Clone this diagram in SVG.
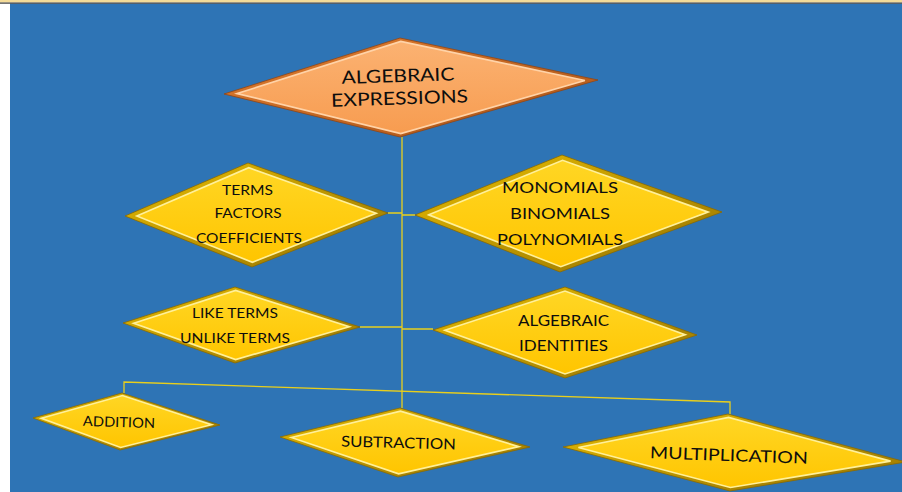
<svg xmlns="http://www.w3.org/2000/svg" width="902" height="492" viewBox="0 0 902 492">
  <defs>
    <linearGradient id="yface" x1="0" y1="0" x2="0" y2="1">
      <stop offset="0" stop-color="#FFD624"/>
      <stop offset="1" stop-color="#FFC500"/>
    </linearGradient>
    <linearGradient id="yrim" x1="0" y1="0" x2="1" y2="1">
      <stop offset="0" stop-color="#E8BC00"/>
      <stop offset="1" stop-color="#967300"/>
    </linearGradient>
    <linearGradient id="oface" x1="0" y1="0" x2="0" y2="1">
      <stop offset="0" stop-color="#FBB272"/>
      <stop offset="1" stop-color="#F79C50"/>
    </linearGradient>
    <linearGradient id="orim" x1="0" y1="0" x2="1" y2="1">
      <stop offset="0" stop-color="#E37F30"/>
      <stop offset="1" stop-color="#A85216"/>
    </linearGradient>
    <style>
      .yrim { fill: url(#yrim); stroke: #8A6A00; stroke-width: 0.8; }
      .yface { fill: url(#yface); stroke: #FFF09A; stroke-width: 1.8; }
      .orim { fill: url(#orim); stroke: #944512; stroke-width: 0.8; }
      .oface { fill: url(#oface); stroke: #FFD3A8; stroke-width: 1.8; }
      text { font-family: Lato, "Liberation Sans", sans-serif; fill: #0D0D0D; text-anchor: middle; }
      .s14 { font-size: 14px; }
      .s15 { font-size: 15px; }
      .s16 { font-size: 16.5px; }
      .s18 { font-size: 18px; }
      .conn { fill: none; stroke: #E9CF1C; stroke-width: 1.3; }
    </style>
  </defs>

  <rect x="0" y="0" width="902" height="492" fill="#FFFFFF"/>
  <rect x="10" y="3.5" width="892" height="488.5" fill="#2E74B5"/>
  <rect x="0" y="0" width="902" height="2.5" fill="#F4DB98"/>
  <rect x="0" y="2.5" width="902" height="1.2" fill="#3A3A3A"/>

  <g id="connectors">
    <path class="conn" d="M402,137 V408"/>
    <path class="conn" d="M388,213 H402 M402,215 H415"/>
    <path class="conn" d="M360,327 H402 M402,329 H433"/>
    <path class="conn" d="M124,393 V382 L730,402 V414"/>
  </g>

  <g id="node-algebraic-expressions">
    <polygon class="orim" points="224,94 400,38 598,80 400,137"/>
    <polygon class="oface" points="224,94 400,38 598,80 400,137" transform="matrix(0.93,0,0,0.93,28.77,6.125)"/>
    <g transform="rotate(-1.8 400 94)">
      <text class="s18" x="398.5" y="82" textLength="113" lengthAdjust="spacingAndGlyphs">ALGEBRAIC</text>
      <text class="s18" x="399.5" y="104.5" textLength="137" lengthAdjust="spacingAndGlyphs">EXPRESSIONS</text>
    </g>
  </g>

  <g id="node-terms">
    <polygon class="yrim" points="125,216 248,163 388,213 252,267"/>
    <polygon class="yface" points="125,216 248,163 388,213 252,267" transform="matrix(0.91,0,0,0.91,23.085,19.35)"/>
    <text class="s14" x="247.5" y="195" textLength="51" lengthAdjust="spacingAndGlyphs">TERMS</text>
    <text class="s14" x="248" y="218.3" textLength="67" lengthAdjust="spacingAndGlyphs">FACTORS</text>
    <text class="s14" x="249" y="242.7" textLength="106" lengthAdjust="spacingAndGlyphs">COEFFICIENTS</text>
  </g>

  <g id="node-monomials">
    <polygon class="yrim" points="415,215 562,155 722,212 560,272"/>
    <polygon class="yface" points="415,215 562,155 722,212 560,272" transform="matrix(0.91,0,0,0.91,51.165,19.215)"/>
    <text class="s15" x="560" y="193" textLength="116" lengthAdjust="spacingAndGlyphs">MONOMIALS</text>
    <text class="s15" x="560" y="218.5" textLength="100" lengthAdjust="spacingAndGlyphs">BINOMIALS</text>
    <text class="s15" x="560" y="245" textLength="126" lengthAdjust="spacingAndGlyphs">POLYNOMIALS</text>
  </g>

  <g id="node-like-terms">
    <polygon class="yrim" points="123,323 235,287 360,327 235,363"/>
    <polygon class="yface" points="123,323 235,287 360,327 235,363" transform="matrix(0.91,0,0,0.91,21.735,29.25)"/>
    <text class="s14" x="235" y="318" textLength="86" lengthAdjust="spacingAndGlyphs">LIKE TERMS</text>
    <text class="s14" x="235" y="343" textLength="110" lengthAdjust="spacingAndGlyphs">UNLIKE TERMS</text>
  </g>

  <g id="node-algebraic-identities">
    <polygon class="yrim" points="433,330 565,287 697,335 565,378"/>
    <polygon class="yface" points="433,330 565,287 697,335 565,378" transform="matrix(0.91,0,0,0.91,50.85,29.925)"/>
    <text class="s15" x="563.5" y="325.7" textLength="91" lengthAdjust="spacingAndGlyphs">ALGEBRAIC</text>
    <text class="s15" x="563.5" y="350.7" textLength="89" lengthAdjust="spacingAndGlyphs">IDENTITIES</text>
  </g>

  <g id="node-addition">
    <polygon class="yrim" points="33,418 122,393 220,425 120,450"/>
    <polygon class="yface" points="33,418 122,393 220,425 120,450" transform="matrix(0.91,0,0,0.91,11.385,37.935)"/>
    <text class="s14" x="119" y="427" textLength="72" lengthAdjust="spacingAndGlyphs" transform="rotate(1.8 119 422)">ADDITION</text>
  </g>

  <g id="node-subtraction">
    <polygon class="yrim" points="280,437 400,408 530,447 398,477"/>
    <polygon class="yface" points="280,437 400,408 530,447 398,477" transform="matrix(0.91,0,0,0.91,36.45,39.825)"/>
    <text class="s15" x="398.5" y="448" textLength="115" lengthAdjust="spacingAndGlyphs" transform="rotate(1.5 398 443)">SUBTRACTION</text>
  </g>

  <g id="node-multiplication">
    <polygon class="yrim" points="563,447 728,414 906,462 730,491"/>
    <polygon class="yface" points="563,447 728,414 906,462 730,491" transform="matrix(0.91,0,0,0.91,66.105,40.725)"/>
    <text class="s16" x="729" y="461" textLength="158" lengthAdjust="spacingAndGlyphs" transform="rotate(2 729 455)">MULTIPLICATION</text>
  </g>
</svg>
